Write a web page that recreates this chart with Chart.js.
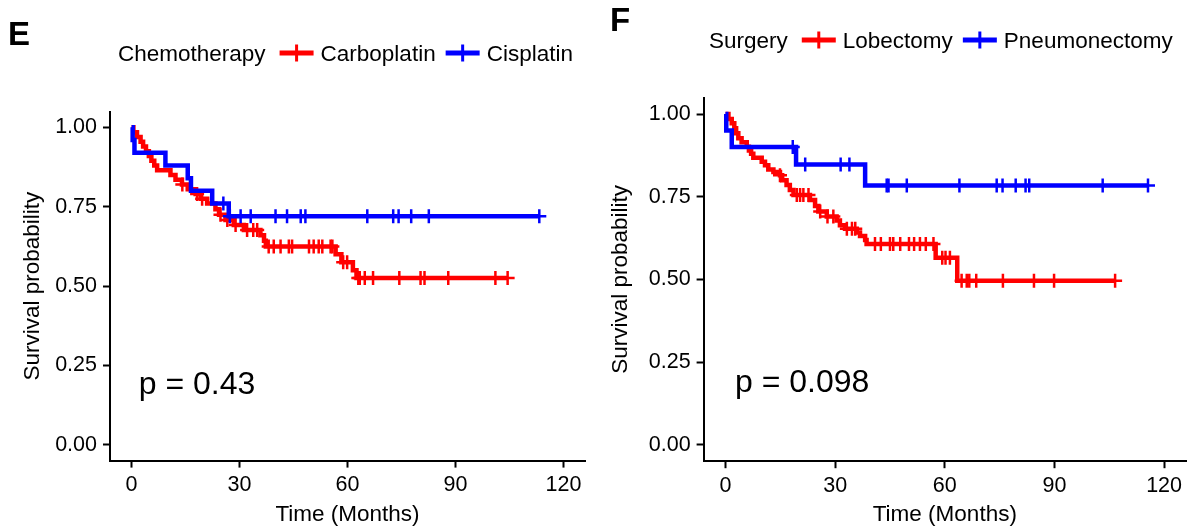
<!DOCTYPE html>
<html>
<head>
<meta charset="utf-8">
<script src="https://cdn.jsdelivr.net/npm/chart.js@4.4.1/dist/chart.umd.min.js"></script>
<style>
  body { margin: 0; background: #fff; }
  #wrap { position: relative; width: 1196px; height: 529px; }
  .panel { position: absolute; top: 0; width: 598px; height: 529px; }
</style>
</head>
<body>
<div id="wrap">
  <div class="panel" style="left:0"><canvas id="chartE" width="598" height="529"></canvas></div>
  <div class="panel" style="left:598px"><canvas id="chartF" width="598" height="529"></canvas></div>
</div>
<script>
const FONT = "'Liberation Sans', Arial, sans-serif";
const W = 598;
const H = 529;

const xTicks = [0, 30, 60, 90, 120];
const yTicks = [0, 0.25, 0.5, 0.75, 1];

// Panel E - chemotherapy (event times in months, survival after each event)
const carboTimes = [0, 0.5, 1.5, 2.5, 3.2, 4.0, 4.8, 5.5, 6.3, 7.1, 10.8, 12.2, 14.0, 15.6, 17.8, 19.2, 21.0, 23.3, 24.3, 26.1, 28.4, 31.2, 35.8, 36.8, 37.3, 56.7, 58.3, 61.5, 62.5];
const carboSurv = [1.0, 0.985, 0.97, 0.955, 0.94, 0.925, 0.91, 0.895, 0.88, 0.865, 0.85, 0.835, 0.82, 0.805, 0.79, 0.775, 0.76, 0.742, 0.725, 0.708, 0.692, 0.677, 0.66, 0.643, 0.625, 0.60, 0.575, 0.55, 0.525];
const carboCensor = [14.1, 18.2, 19.6, 24.7, 26.6, 28.9, 32.1, 33.8, 34.9, 38.1, 39.5, 41.4, 43.7, 44.6, 49.3, 50.6, 52.0, 53.0, 55.3, 55.8, 58.8, 59.9, 63.0, 63.4, 64.8, 67.1, 74.4, 80.3, 81.4, 88.0, 101.1, 104.5];

const cisTimes = [0, 0.3, 0.8, 9.4, 15.6, 16.5, 22.4, 27.0];
const cisSurv = [1.0, 0.96, 0.92, 0.88, 0.84, 0.80, 0.76, 0.72];
const cisCensor = [25.5, 27.3, 30.3, 33.1, 40.0, 43.2, 47.0, 48.3, 65.5, 72.7, 74.2, 77.7, 82.6, 113.3];

// Panel F - surgery
const lobTimes = [0, 0.8, 1.7, 2.4, 2.9, 3.5, 4.4, 5.8, 6.4, 7.0, 7.6, 9.9, 10.8, 11.7, 13.1, 14.9, 15.5, 16.7, 17.6, 18.6, 23.1, 24.5, 25.4, 27.7, 30.4, 31.3, 32.7, 35.9, 36.8, 38.2, 38.6, 57.5, 63.4];
const lobSurv = [1.0, 0.985, 0.972, 0.957, 0.942, 0.927, 0.915, 0.901, 0.89, 0.88, 0.868, 0.856, 0.845, 0.832, 0.825, 0.815, 0.80, 0.785, 0.77, 0.755, 0.74, 0.722, 0.705, 0.69, 0.678, 0.664, 0.653, 0.642, 0.631, 0.619, 0.607, 0.565, 0.496];
const lobCensor = [14.9, 19.5, 20.4, 21.3, 22.7, 25.9, 27.9, 29.5, 33.2, 34.6, 35.5, 40.9, 42.5, 45.0, 45.9, 47.8, 50.2, 51.6, 53.2, 54.8, 56.9, 59.3, 60.2, 61.4, 64.6, 66.0, 66.7, 68.6, 75.9, 84.4, 89.9, 106.6];

const pneuTimes = [0, 0.2, 1.7, 19.3, 38.2];
const pneuSurv = [1.0, 0.95, 0.90, 0.847, 0.784];
const pneuCensor = [18.4, 21.8, 31.5, 33.9, 44.1, 44.6, 49.6, 64.0, 74.2, 75.8, 79.4, 82.1, 83.1, 103.2, 115.6];

// survival level of a step curve at time t
function survAt(times, surv, t) {
  let s = surv[0];
  for (let i = 0; i < times.length; i++) {
    if (times[i] <= t) s = surv[i];
  }
  return s;
}

function curvePoints(times, surv, censor) {
  const pts = times.map((t, i) => ({ x: t, y: surv[i] }));
  const last = censor[censor.length - 1];
  if (last > times[times.length - 1]) {
    pts.push({ x: last, y: surv[surv.length - 1] });
  }
  return pts;
}

function textPlugin(p) {
  return {
    id: "panelText",
    afterDraw(chart) {
      const ctx = chart.ctx;
      ctx.save();
      ctx.fillStyle = "#000";
      ctx.textAlign = "left";
      ctx.textBaseline = "alphabetic";

      ctx.font = `bold 33px ${FONT}`;
      ctx.fillText(p.letter, p.letterX, p.letterY);

      // legend: title then one symbol + label per group
      ctx.font = `22.5px ${FONT}`;
      let x = p.legendX;
      const y = p.legendY;
      const mid = y - 8;
      ctx.fillText(p.legendTitle, x, y);
      x += ctx.measureText(p.legendTitle).width + 14;
      p.groups.forEach(g => {
        ctx.strokeStyle = g.color;
        ctx.lineWidth = 5;
        ctx.beginPath();
        ctx.moveTo(x, mid);
        ctx.lineTo(x + 34, mid);
        ctx.stroke();
        ctx.lineWidth = 3;
        ctx.beginPath();
        ctx.moveTo(x + 17, mid - 8.5);
        ctx.lineTo(x + 17, mid + 8.5);
        ctx.stroke();
        x += 41;
        ctx.fillText(g.label, x, y);
        x += ctx.measureText(g.label).width + 10;
      });

      ctx.font = `32px ${FONT}`;
      const xs = chart.scales.x;
      const ys = chart.scales.y;
      ctx.fillText(p.pval, xs.getPixelForValue(p.pvalAt[0]), ys.getPixelForValue(p.pvalAt[1]));
      ctx.restore();
    }
  };
}

function buildPanel(canvasId, p) {
  const datasets = [];
  // later groups go first so they sit on top
  [...p.groups].reverse().forEach(g => {
    datasets.push({
      data: curvePoints(g.times, g.surv, g.censor),
      stepped: true,
      borderColor: g.color,
      borderWidth: 4.5,
      pointRadius: 0,
      fill: false
    });
    datasets.push({
      data: g.censor.map(t => ({ x: t, y: survAt(g.times, g.surv, t) })),
      showLine: false,
      pointStyle: "cross",
      pointRadius: 7,
      pointBorderWidth: 2.5,
      borderColor: g.color,
      backgroundColor: g.color
    });
  });

  const tickFont = { family: FONT, size: 21.5 };
  const titleFont = { family: FONT, size: 22.5 };

  return new Chart(document.getElementById(canvasId), {
    type: "line",
    data: { datasets: datasets },
    options: {
      responsive: false,
      animation: false,
      devicePixelRatio: 1,
      layout: {
        padding: { left: 0, top: p.area.top, right: W - p.area.right, bottom: 0 }
      },
      plugins: {
        legend: { display: false },
        tooltip: { enabled: false }
      },
      scales: {
        x: {
          type: "linear",
          min: -6,
          max: 126,
          afterBuildTicks: s => { s.ticks = xTicks.map(v => ({ value: v })); },
          afterFit: s => { s.height = H - p.area.bottom; },
          border: { display: true, color: "#000", width: 2 },
          grid: { drawOnChartArea: false, drawTicks: true, tickLength: 7, tickWidth: 2, tickColor: "#000" },
          ticks: { color: "#000", font: tickFont, padding: 5, maxRotation: 0, autoSkip: false },
          title: {
            display: true,
            text: "Time (Months)",
            color: "#000",
            font: titleFont,
            padding: { top: 0, bottom: 0.5 }
          }
        },
        y: {
          type: "linear",
          min: -0.05,
          max: 1.05,
          afterBuildTicks: s => { s.ticks = yTicks.map(v => ({ value: v })); },
          afterFit: s => { s.width = p.area.left; },
          border: { display: true, color: "#000", width: 2 },
          grid: { drawOnChartArea: false, drawTicks: true, tickLength: 7, tickWidth: 2, tickColor: "#000" },
          ticks: {
            color: "#000",
            font: tickFont,
            padding: 6,
            callback: v => Number(v).toFixed(2)
          },
          title: {
            display: true,
            text: "Survival probability",
            color: "#000",
            font: titleFont,
            padding: { top: p.yTitlePad, bottom: 0 }
          }
        }
      }
    },
    plugins: [textPlugin(p)]
  });
}

buildPanel("chartE", {
  area: { left: 110, right: 585, top: 111.5, bottom: 460.6 },
  yTitlePad: 19.5,
  letter: "E", letterX: 8, letterY: 45,
  legendTitle: "Chemotherapy", legendX: 118, legendY: 61,
  pval: "p = 0.43", pvalAt: [2, 0.16],
  groups: [
    { label: "Carboplatin", color: "#ff0000", times: carboTimes, surv: carboSurv, censor: carboCensor },
    { label: "Cisplatin", color: "#0000ff", times: cisTimes, surv: cisSurv, censor: cisCensor }
  ]
});

buildPanel("chartF", {
  area: { left: 105.6, right: 588, top: 97.5, bottom: 461.2 },
  yTitlePad: 9.5,
  letter: "F", letterX: 12, letterY: 31,
  legendTitle: "Surgery", legendX: 111, legendY: 48,
  pval: "p = 0.098", pvalAt: [2.6, 0.16],
  groups: [
    { label: "Lobectomy", color: "#ff0000", times: lobTimes, surv: lobSurv, censor: lobCensor },
    { label: "Pneumonectomy", color: "#0000ff", times: pneuTimes, surv: pneuSurv, censor: pneuCensor }
  ]
});
</script>
</body>
</html>
